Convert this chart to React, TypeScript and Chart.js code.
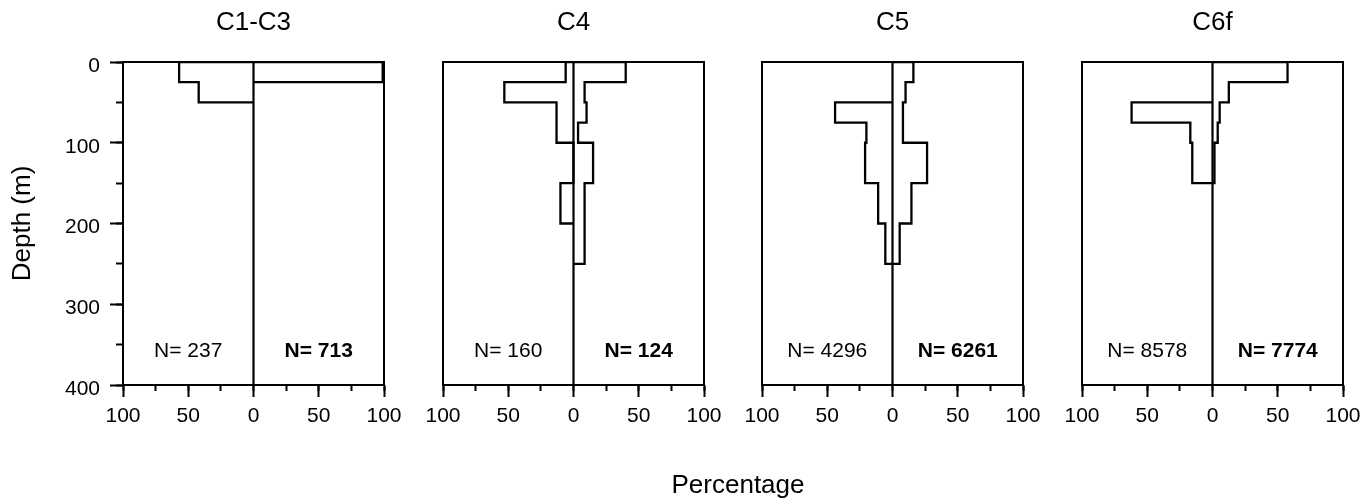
import React, { useEffect, useRef } from 'react';
import { Chart, registerables } from 'chart.js';

Chart.register(...registerables);

const FONT = '"Liberation Sans", Arial, Helvetica, sans-serif';
Chart.defaults.font.family = FONT;
Chart.defaults.color = '#000';

// ---------------- data ----------------
const STAGES = ['C1-C3', 'C4', 'C5', 'C6f'];
const DEPTH_EDGES = [0, 25, 50, 75, 100, 150, 200, 250];
const DEPTH_RANGE = [0, 400];
const PCT_RANGE = [-100, 100];

const C1C3_LEFT = [57, 42, 0, 0, 0, 0, 0];
const C1C3_RIGHT = [99, 0, 0, 0, 0, 0, 0];
const C4_LEFT = [6, 53, 13, 13, 0, 10, 0];
const C4_RIGHT = [40, 8.5, 10, 3.5, 15, 8.5, 8.5];
const C5_LEFT = [0, 0, 44, 20, 21, 11, 5.5];
const C5_RIGHT = [16, 10, 8, 8, 26.5, 14.5, 5.5];
const C6F_LEFT = [0, 0, 62, 17, 15.5, 0, 0];
const C6F_RIGHT = [57.5, 12.5, 5.5, 4, 1.5, 0, 0];

const LEFT_SERIES = [C1C3_LEFT, C4_LEFT, C5_LEFT, C6F_LEFT];
const RIGHT_SERIES = [C1C3_RIGHT, C4_RIGHT, C5_RIGHT, C6F_RIGHT];

const N_LEFT = [237, 160, 4296, 8578];
const N_RIGHT = [713, 124, 6261, 7774];

const X_TICKS = [-100, -50, 0, 50, 100];
const X_MINOR_TICKS = [-100, -75, -50, -25, 0, 25, 50, 75, 100];
const Y_TICKS = [0, 100, 200, 300, 400];
const Y_MINOR_TICKS = [0, 50, 100, 150, 200, 250, 300, 350, 400];

const Y_TITLE = 'Depth (m)';
const X_TITLE = 'Percentage';
const N_LABEL_DEPTH = 358;
const N_LABEL_X = 50;

// ---------------- layout ----------------
const PLOT_LEFTS = [123, 443, 762, 1082];
const PLOT_W = 261;
const MARGIN = 30;
const CANVAS_H = 501;

function profile(values: number[], sign: number) {
  let first = values.findIndex((v) => v !== 0);
  let last = values.length - 1;
  while (last >= 0 && values[last] === 0) last--;
  if (first < 0) return [];
  const pts: { x: number; y: number }[] = [{ x: 0, y: DEPTH_EDGES[first] }];
  for (let i = first; i <= last; i++) {
    pts.push({ x: sign * values[i], y: DEPTH_EDGES[i] });
    pts.push({ x: sign * values[i], y: DEPTH_EDGES[i + 1] });
  }
  pts.push({ x: 0, y: DEPTH_EDGES[last + 1] });
  return pts;
}

const nLabelPlugin = {
  id: 'nLabels',
  afterDatasetsDraw(chart: any, _args: any, opts: any) {
    const { ctx } = chart;
    const x = chart.scales.x;
    const y = chart.scales.y;
    const py = y.getPixelForValue(N_LABEL_DEPTH);
    ctx.save();
    ctx.fillStyle = '#000';
    ctx.textAlign = 'center';
    ctx.textBaseline = 'middle';
    ctx.font = `21px ${FONT}`;
    ctx.fillText(`N= ${opts.left}`, x.getPixelForValue(-N_LABEL_X), py);
    ctx.font = `bold 21px ${FONT}`;
    ctx.fillText(`N= ${opts.right}`, x.getPixelForValue(N_LABEL_X), py);
    ctx.restore();
  },
};

const lineStyle = {
  showLine: true,
  borderColor: '#000',
  pointRadius: 0,
  fill: false,
  borderJoinStyle: 'miter',
};

function Panel({ index }: { index: number }) {
  const ref = useRef<HTMLCanvasElement>(null);
  const first = index === 0;
  const padLeft = first ? 0 : MARGIN;
  const leftSpace = first ? PLOT_LEFTS[0] : MARGIN;
  const width = leftSpace + PLOT_W + MARGIN;
  const left = first ? 0 : PLOT_LEFTS[index] - MARGIN;

  useEffect(() => {
    if (!ref.current) return;
    const chart = new Chart(ref.current, {
      type: 'scatter',
      data: {
        datasets: [
          {
            ...lineStyle,
            data: DEPTH_RANGE.map((d) => ({ x: 0, y: d })),
            borderWidth: 2.2,
          },
          {
            ...lineStyle,
            data: profile(LEFT_SERIES[index], -1),
            borderWidth: 2.3,
          },
          {
            ...lineStyle,
            data: profile(RIGHT_SERIES[index], 1),
            borderWidth: 2.3,
          },
        ],
      } as any,
      options: {
        animation: false,
        responsive: false,
        events: [],
        layout: { padding: { left: padLeft, right: MARGIN, top: 0, bottom: 76 } },
        plugins: {
          legend: { display: false },
          tooltip: { enabled: false },
          title: {
            display: true,
            text: STAGES[index],
            color: '#000',
            font: { size: 26, weight: 'normal', family: FONT },
            padding: { top: 7, bottom: 23.8 },
            fullSize: false,
          },
          nLabels: { left: N_LEFT[index], right: N_RIGHT[index] },
        } as any,
        scales: {
          x: {
            type: 'linear',
            position: 'bottom',
            min: PCT_RANGE[0],
            max: PCT_RANGE[1],
            afterBuildTicks: (s: any) => {
              s.ticks = X_TICKS.map((v) => ({ value: v }));
            },
            ticks: {
              callback: (v: any) => String(Math.abs(Number(v))),
              font: { size: 21 },
              padding: 7,
              color: '#000',
              maxRotation: 0,
              autoSkip: false,
            },
            grid: {
              drawOnChartArea: false,
              tickColor: '#000',
              tickWidth: 2,
              tickLength: 12,
            },
            border: { display: true, color: '#000', width: 2 },
            afterFit: (s: any) => {
              s.height = 40;
            },
          },
          xMinor: {
            type: 'linear',
            position: 'bottom',
            weight: -1,
            min: PCT_RANGE[0],
            max: PCT_RANGE[1],
            afterBuildTicks: (s: any) => {
              s.ticks = X_MINOR_TICKS.map((v) => ({ value: v }));
            },
            ticks: { display: false },
            grid: { drawOnChartArea: false, tickLength: 6, tickColor: '#000', tickWidth: 2 },
            border: { display: false },
            afterFit: (s: any) => {
              s.height = 0;
            },
          },
          xTop: {
            type: 'linear',
            position: 'top',
            min: PCT_RANGE[0],
            max: PCT_RANGE[1],
            ticks: { display: false },
            grid: { display: false, drawTicks: false },
            border: { display: true, color: '#000', width: 2 },
            afterFit: (s: any) => {
              s.height = 0;
            },
          },
          y: {
            type: 'linear',
            position: 'left',
            reverse: true,
            min: DEPTH_RANGE[0],
            max: DEPTH_RANGE[1],
            afterBuildTicks: (s: any) => {
              s.ticks = Y_TICKS.map((v) => ({ value: v }));
            },
            ticks: {
              display: first,
              font: { size: 21 },
              padding: 10,
              labelOffset: 4,
              color: '#000',
            },
            grid: {
              drawOnChartArea: false,
              drawTicks: first,
              tickLength: 13,
              tickColor: '#000',
              tickWidth: 2,
            },
            border: { display: true, color: '#000', width: 2 },
            title: {
              display: first,
              text: Y_TITLE,
              color: '#000',
              font: { size: 26 },
              padding: { top: 7, bottom: 0 },
            },
            afterFit: (s: any) => {
              s.width = first ? PLOT_LEFTS[0] : 0;
            },
          },
          yMinor: {
            type: 'linear',
            position: 'left',
            weight: -1,
            reverse: true,
            min: DEPTH_RANGE[0],
            max: DEPTH_RANGE[1],
            display: first,
            afterBuildTicks: (s: any) => {
              s.ticks = Y_MINOR_TICKS.map((v) => ({ value: v }));
            },
            ticks: { display: false },
            grid: { drawOnChartArea: false, tickLength: 7, tickColor: '#000', tickWidth: 2 },
            border: { display: false },
            afterFit: (s: any) => {
              s.width = 0;
            },
          },
          yRight: {
            type: 'linear',
            position: 'right',
            min: DEPTH_RANGE[0],
            max: DEPTH_RANGE[1],
            ticks: { display: false },
            grid: { display: false, drawTicks: false },
            border: { display: true, color: '#000', width: 2 },
            afterFit: (s: any) => {
              s.width = 0;
            },
          },
        } as any,
      },
      plugins: [nLabelPlugin as any],
    });
    return () => chart.destroy();
  }, [index]);

  return (
    <div style={{ position: 'absolute', left, top: 0, width, height: CANVAS_H }}>
      <canvas ref={ref} width={width} height={CANVAS_H} style={{ width, height: CANVAS_H, display: 'block' }} />
    </div>
  );
}

export default function App() {
  return (
    <div
      style={{
        position: 'absolute',
        left: 0,
        top: 0,
        width: 1371,
        height: 501,
        background: '#fff',
        overflow: 'hidden',
        fontFamily: FONT,
      }}
    >
      {STAGES.map((_, i) => (
        <Panel key={i} index={i} />
      ))}
      <div
        style={{
          position: 'absolute',
          left: 638,
          width: 200,
          top: 469,
          textAlign: 'center',
          fontSize: 26,
          lineHeight: '31.2px',
          color: '#000',
        }}
      >
        {X_TITLE}
      </div>
    </div>
  );
}
